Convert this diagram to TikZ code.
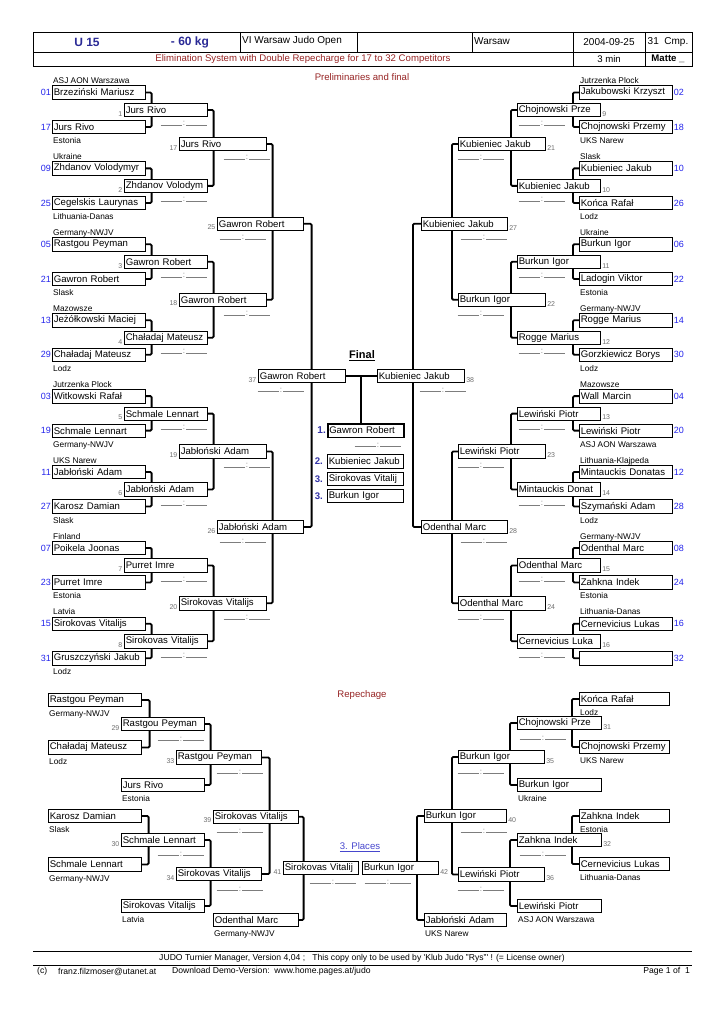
\documentclass[tikz,border=0pt]{standalone}
\usepackage{fontspec}
\setmainfont{Liberation Sans}
\usetikzlibrary{calc,shadows,backgrounds}

\definecolor{hdblue}{RGB}{42,42,150}
\definecolor{nrblue}{RGB}{35,35,235}
\definecolor{dkred}{RGB}{150,35,35}
\definecolor{plblue}{RGB}{50,50,165}
\definecolor{lnkblue}{RGB}{70,70,205}
\definecolor{numgray}{RGB}{110,110,110}
\definecolor{scgray}{RGB}{125,125,125}

\def\nmfont{\fontsize{9.6}{11}\selectfont}
\def\clfont{\fontsize{8.3}{9}\selectfont}
\def\nrfont{\fontsize{9}{10}\selectfont}
\def\mnfont{\fontsize{7}{8}\selectfont}
\def\scoreline{\textcolor{scgray}{\rule{21pt}{0.6pt}\,:\,\rule{21pt}{0.6pt}}}

\tikzset{
  pbox/.style={draw, fill=white, line width=0.6pt, inner xsep=1.5pt, inner ysep=0pt,
    minimum height=13.5pt, anchor=west, align=left, font=\nmfont,
    general shadow={fill=black, shadow xshift=0.7pt, shadow yshift=-0.7pt}},
  ebox/.style={pbox, text width=90pt},
  abox/.style={pbox, text width=80pt},
  bbox/.style={pbox, text width=84pt},
  cbox/.style={pbox, text width=83pt},
  pwide/.style={pbox, text width=73pt},
  conn/.style={line width=1.8pt, rounded corners=1.2pt},
  hline/.style={line width=0.6pt},
  score/.style={inner sep=0pt, anchor=base, font=\fontsize{8}{8}\selectfont},
  clubtxt/.style={inner sep=0pt, anchor=base west, xshift=1pt, font=\clfont},
  clubabove/.style={label={[clubtxt, yshift=1.8pt]north west:#1}},
  clubbelow/.style={label={[clubtxt, yshift=-9.5pt]south west:#1}},
  numleft/.style={label={[anchor=east, inner sep=1pt, text=nrblue, font=\nrfont]west:#1}},
  numright/.style={label={[anchor=west, inner sep=1pt, text=nrblue, font=\nrfont]east:#1}},
  matchl/.style={label={[anchor=south east, inner xsep=1.5pt, inner ysep=0.5pt, text=numgray, font=\mnfont]south west:#1}},
  matchr/.style={label={[anchor=south west, inner xsep=1.5pt, inner ysep=0.5pt, text=numgray, font=\mnfont]south east:#1}},
  redtxt/.style={text=dkred, font=\fontsize{9.6}{11}\selectfont},
  foot/.style={font=\fontsize{8.6}{10}\selectfont, inner sep=0pt}
}

\begin{document}
\begin{tikzpicture}[x=1pt,y=-1pt]
\useasboundingbox (0,0) rectangle (724,1024);

%%%%% HEADER %%%%%
\draw[hline] (33,32) rectangle (692,66);
\draw[hline] (33,52) -- (692,52);
\draw[hline] (240,32) -- (240,52) (357,32) -- (357,52) (472,32) -- (472,52);
\draw[hline] (573,32) -- (573,66) (645,32) -- (645,66);
\node[text=hdblue, font=\fontsize{12}{14}\selectfont\bfseries] (age) at (87,42) {U 15};
\node[text=hdblue, font=\fontsize{12}{14}\selectfont\bfseries] (wcls) at (190,42) {- 60 kg};
\node[anchor=west, inner sep=1pt, font=\fontsize{10}{12}\selectfont] (tour) at (241,41) {VI Warsaw Judo Open};
\node[anchor=west, inner sep=1pt, font=\fontsize{10}{12}\selectfont] (city) at (473,41) {Warsaw};
\node[font=\fontsize{10}{12}\selectfont] (date) at (609,42) {2004-09-25};
\node[font=\fontsize{10}{12}\selectfont] (cmp) at (668,42) {31\ \ Cmp.};
\node[redtxt] (sys) at (303,59) {Elimination System with Double Repecharge for 17 to 32 Competitors};
\node[font=\fontsize{9.6}{11}\selectfont] (time) at (609,59) {3 min};
\node[font=\fontsize{9.6}{11}\selectfont\bfseries] (mat) at (668,59) {Matte \_};
\node[redtxt] (prel) at (362,77) {Preliminaries and final};

%%%%% LEFT ENTRIES %%%%%
\node[ebox, numleft=01, clubabove=ASJ AON Warszawa] (e01) at (52,92.5) {Brzeziński Mariusz};
\node[ebox, numleft=17, clubbelow=Estonia] (e17) at (52,127) {Jurs Rivo};
\node[ebox, numleft=09, clubabove=Ukraine] (e09) at (52,168.4) {Zhdanov Volodymyr};
\node[ebox, numleft=25, clubbelow=Lithuania-Danas] (e25) at (52,203) {Cegelskis Laurynas};
\node[ebox, numleft=05, clubabove=Germany-NWJV] (e05) at (52,244.3) {Rastgou Peyman};
\node[ebox, numleft=21, clubbelow=Slask] (e21) at (52,279) {Gawron Robert};
\node[ebox, numleft=13, clubabove=Mazowsze] (e13) at (52,320.2) {Jeżółkowski Maciej};
\node[ebox, numleft=29, clubbelow=Lodz] (e29) at (52,354.7) {Chaładaj Mateusz};
\node[ebox, numleft=03, clubabove=Jutrzenka Plock] (e03) at (52,396.1) {Witkowski Rafał};
\node[ebox, numleft=19, clubbelow=Germany-NWJV] (e19) at (52,430.6) {Schmale Lennart};
\node[ebox, numleft=11, clubabove=UKS Narew] (e11) at (52,472) {Jabłoński Adam};
\node[ebox, numleft=27, clubbelow=Slask] (e27) at (52,506.5) {Karosz Damian};
\node[ebox, numleft=07, clubabove=Finland] (e07) at (52,547.9) {Poikela Joonas};
\node[ebox, numleft=23, clubbelow=Estonia] (e23) at (52,582.4) {Purret Imre};
\node[ebox, numleft=15, clubabove=Latvia] (e15) at (52,623.8) {Sirokovas Vitalijs};
\node[ebox, numleft=31, clubbelow=Lodz] (e31) at (52,658.3) {Gruszczyński Jakub};

%%%%% RIGHT ENTRIES %%%%%
\node[ebox, numright=02, clubabove=Jutrzenka Plock] (e02) at (579,92.5) {Jakubowski Krzyszt};
\node[ebox, numright=18, clubbelow=UKS Narew] (e18) at (579,127) {Chojnowski Przemy};
\node[ebox, numright=10, clubabove=Slask] (e10) at (579,168.4) {Kubieniec Jakub};
\node[ebox, numright=26, clubbelow=Lodz] (e26) at (579,203) {Końca Rafał};
\node[ebox, numright=06, clubabove=Ukraine] (e06) at (579,244.3) {Burkun Igor};
\node[ebox, numright=22, clubbelow=Estonia] (e22) at (579,279) {Ladogin Viktor};
\node[ebox, numright=14, clubabove=Germany-NWJV] (e14) at (579,320.2) {Rogge Marius};
\node[ebox, numright=30, clubbelow=Lodz] (e30) at (579,354.7) {Gorzkiewicz Borys};
\node[ebox, numright=04, clubabove=Mazowsze] (e04) at (579,396.1) {Wall Marcin};
\node[ebox, numright=20, clubbelow=ASJ AON Warszawa] (e20) at (579,430.6) {Lewiński Piotr};
\node[ebox, numright=12, clubabove=Lithuania-Klajpeda] (e12) at (579,472) {Mintauckis Donatas};
\node[ebox, numright=28, clubbelow=Lodz] (e28) at (579,506.5) {Szymański Adam};
\node[ebox, numright=08, clubabove=Germany-NWJV] (e08) at (579,547.9) {Odenthal Marc};
\node[ebox, numright=24, clubbelow=Estonia] (e24) at (579,582.4) {Zahkna Indek};
\node[ebox, numright=16, clubabove=Lithuania-Danas] (e16) at (579,623.8) {Cernevicius Lukas};
\node[ebox, numright=32] (e32) at (579,658.3) {};

%%%%% ROUND 1 %%%%%
\node[abox, matchl=1] (m1) at (124,110) {Jurs Rivo};
\node[abox, matchl=2] (m2) at (124,185.9) {Zhdanov Volodym};
\node[abox, matchl=3] (m3) at (124,261.8) {Gawron Robert};
\node[abox, matchl=4] (m4) at (124,337.7) {Chaładaj Mateusz};
\node[abox, matchl=5] (m5) at (124,413.6) {Schmale Lennart};
\node[abox, matchl=6] (m6) at (124,489.5) {Jabłoński Adam};
\node[abox, matchl=7] (m7) at (124,565.4) {Purret Imre};
\node[abox, matchl=8] (m8) at (124,641.3) {Sirokovas Vitalijs};
\node[abox, matchr=9] (m9) at (517,110) {Chojnowski Prze};
\node[abox, matchr=10] (m10) at (517,185.9) {Kubieniec Jakub};
\node[abox, matchr=11] (m11) at (517,261.8) {Burkun Igor};
\node[abox, matchr=12] (m12) at (517,337.7) {Rogge Marius};
\node[abox, matchr=13] (m13) at (517,413.6) {Lewiński Piotr};
\node[abox, matchr=14] (m14) at (517,489.5) {Mintauckis Donat};
\node[abox, matchr=15] (m15) at (517,565.4) {Odenthal Marc};
\node[abox, matchr=16] (m16) at (517,641.3) {Cernevicius Luka};

%%%%% ROUND 2 / 3 / FINAL %%%%%
\node[bbox, matchl=17] (m17) at (179,144) {Jurs Rivo};
\node[bbox, matchl=18] (m18) at (179,299.7) {Gawron Robert};
\node[bbox, matchl=19] (m19) at (179,451.5) {Jabłoński Adam};
\node[bbox, matchl=20] (m20) at (179,603.3) {Sirokovas Vitalijs};
\node[bbox, matchr=21] (m21) at (458,144) {Kubieniec Jakub};
\node[bbox, matchr=22] (m22) at (458,299.7) {Burkun Igor};
\node[bbox, matchr=23] (m23) at (458,451.5) {Lewiński Piotr};
\node[bbox, matchr=24] (m24) at (458,603.3) {Odenthal Marc};
\node[cbox, matchl=25] (m25) at (217,223.7) {Gawron Robert};
\node[cbox, matchl=26] (m26) at (217,527) {Jabłoński Adam};
\node[cbox, matchr=27] (m27) at (421,223.7) {Kubieniec Jakub};
\node[cbox, matchr=28] (m28) at (421,527) {Odenthal Marc};
\node[bbox, matchl=37] (m37) at (258,376) {Gawron Robert};
\node[bbox, matchr=38] (m38) at (377,376) {Kubieniec Jakub};

\node[font=\fontsize{11}{13}\selectfont\bfseries] (fin) at (362,356) {\underline{Final}};
\node[pwide, line width=1.5pt] (p1) at (327,430.5) {Gawron Robert};
\node[pwide] (p2) at (327,461.5) {Kubieniec Jakub};
\node[pwide] (p3) at (327,479) {Sirokovas Vitalij};
\node[pwide] (p4) at (327,496) {Burkun Igor};
\node[anchor=east, inner sep=1pt, text=plblue, font=\fontsize{10}{12}\selectfont\bfseries] (pl1) at (p1.west) {1.};
\node[anchor=east, inner sep=1pt, text=plblue, font=\fontsize{9.6}{12}\selectfont\bfseries] (pl2) at ([xshift=-3pt]p2.west) {2.};
\node[anchor=east, inner sep=1pt, text=plblue, font=\fontsize{9.6}{12}\selectfont\bfseries] (pl3) at ([xshift=-3pt]p3.west) {3.};
\node[anchor=east, inner sep=1pt, text=plblue, font=\fontsize{9.6}{12}\selectfont\bfseries] (pl4) at ([xshift=-3pt]p4.west) {3.};

%%%%% SCORES %%%%%
\node[score] (s1) at (184,126) {\scoreline};
\node[score] (s2) at (184,201.9) {\scoreline};
\node[score] (s3) at (184,277.8) {\scoreline};
\node[score] (s4) at (184,353.7) {\scoreline};
\node[score] (s5) at (184,429.6) {\scoreline};
\node[score] (s6) at (184,505.5) {\scoreline};
\node[score] (s7) at (184,581.4) {\scoreline};
\node[score] (s8) at (184,657.3) {\scoreline};
\node[score] (s9) at (542,126) {\scoreline};
\node[score] (s10) at (542,201.9) {\scoreline};
\node[score] (s11) at (542,277.8) {\scoreline};
\node[score] (s12) at (542,353.7) {\scoreline};
\node[score] (s13) at (542,429.6) {\scoreline};
\node[score] (s14) at (542,505.5) {\scoreline};
\node[score] (s15) at (542,581.4) {\scoreline};
\node[score] (s16) at (542,657.3) {\scoreline};
\node[score] (s17) at (247,160) {\scoreline};
\node[score] (s18) at (247,315.7) {\scoreline};
\node[score] (s19) at (247,467.5) {\scoreline};
\node[score] (s20) at (247,619.3) {\scoreline};
\node[score] (s21) at (481,160) {\scoreline};
\node[score] (s22) at (481,315.7) {\scoreline};
\node[score] (s23) at (481,467.5) {\scoreline};
\node[score] (s24) at (481,619.3) {\scoreline};
\node[score] (s25) at (243,239.7) {\scoreline};
\node[score] (s26) at (243,543) {\scoreline};
\node[score] (s27) at (484,239.7) {\scoreline};
\node[score] (s28) at (484,543) {\scoreline};
\node[score] (s37) at (281,392) {\scoreline};
\node[score] (s38) at (443,392) {\scoreline};
\node[score] (sp1) at (378,447) {\scoreline};

%%%%% REPECHAGE %%%%%
\node[redtxt] (rep) at (362,695) {Repechage};
\node[text=lnkblue, font=\fontsize{9.6}{11}\selectfont] (plc) at (360,847) {\underline{3. Places}};

\node[ebox, clubbelow=Germany-NWJV] (ra1) at (48,700) {Rastgou Peyman};
\node[ebox, clubbelow=Lodz] (ra2) at (48,747.5) {Chaładaj Mateusz};
\node[ebox, clubbelow=Slask] (ra3) at (48,816) {Karosz Damian};
\node[ebox, clubbelow=Germany-NWJV] (ra4) at (48,864.5) {Schmale Lennart};
\node[abox, matchl=29] (m29) at (121,724) {Rastgou Peyman};
\node[abox, clubbelow=Estonia] (rb2) at (121,785) {Jurs Rivo};
\node[abox, matchl=30] (m30) at (121,840) {Schmale Lennart};
\node[abox, clubbelow=Latvia] (rb4) at (121,906) {Sirokovas Vitalijs};
\node[pbox, text width=82pt, matchl=33] (m33) at (176,757.5) {Rastgou Peyman};
\node[pbox, text width=82pt, matchl=34] (m34) at (176,874) {Sirokovas Vitalijs};
\node[pbox, text width=82pt, matchl=39] (m39) at (213,816.7) {Sirokovas Vitalijs};
\node[pbox, text width=82pt, clubbelow=Germany-NWJV] (rd2) at (213,920) {Odenthal Marc};
\node[pwide, text width=72pt, matchl=41] (m41) at (283,868) {Sirokovas Vitalij};

\node[pbox, text width=87pt, clubbelow=Lodz] (qa1) at (579,699) {Końca Rafał};
\node[pbox, text width=87pt, clubbelow=UKS Narew] (qa2) at (579,747) {Chojnowski Przemy};
\node[pbox, text width=87pt, clubbelow=Estonia] (qa3) at (579,816) {Zahkna Indek};
\node[pbox, text width=87pt, clubbelow=Lithuania-Danas] (qa4) at (579,864) {Cernevicius Lukas};
\node[pbox, text width=81pt, matchr=31] (m31) at (517,723) {Chojnowski Prze};
\node[pbox, text width=81pt, clubbelow=Ukraine] (qb2) at (517,785) {Burkun Igor};
\node[pbox, text width=81pt, matchr=32] (m32) at (517,840) {Zahkna Indek};
\node[pbox, text width=81pt, clubbelow=ASJ AON Warszawa] (qb4) at (517,906) {Lewiński Piotr};
\node[pbox, text width=83pt, matchr=35] (m35) at (458,757) {Burkun Igor};
\node[pbox, text width=83pt, matchr=36] (m36) at (458,874.5) {Lewiński Piotr};
\node[pbox, text width=79pt, matchr=40] (m40) at (424,816) {Burkun Igor};
\node[pbox, text width=79pt, clubbelow=UKS Narew] (qd2) at (424,920) {Jabłoński Adam};
\node[pwide, matchr=42] (m42) at (362,868) {Burkun Igor};

\node[score] (s29) at (181,741) {\scoreline};
\node[score] (s33) at (240,774) {\scoreline};
\node[score] (s30) at (181,856) {\scoreline};
\node[score] (s34) at (240,891) {\scoreline};
\node[score] (s39) at (240,833) {\scoreline};
\node[score] (s41) at (333,884) {\scoreline};
\node[score] (s31) at (543,740) {\scoreline};
\node[score] (s35) at (481,774) {\scoreline};
\node[score] (s32) at (543,856) {\scoreline};
\node[score] (s36) at (481,891) {\scoreline};
\node[score] (s40) at (484,833) {\scoreline};
\node[score] (s42) at (388,884) {\scoreline};

%%%%% CONNECTORS %%%%%
\begin{scope}[on background layer]
\draw[conn] (e01.east) -- ++(6,0) |- (e17.east);
\draw[conn] (e09.east) -- ++(6,0) |- (e25.east);
\draw[conn] (e05.east) -- ++(6,0) |- (e21.east);
\draw[conn] (e13.east) -- ++(6,0) |- (e29.east);
\draw[conn] (e03.east) -- ++(6,0) |- (e19.east);
\draw[conn] (e11.east) -- ++(6,0) |- (e27.east);
\draw[conn] (e07.east) -- ++(6,0) |- (e23.east);
\draw[conn] (e15.east) -- ++(6,0) |- (e31.east);
\draw[conn] (e02.west) -- ++(-6,0) |- (e18.west);
\draw[conn] (e10.west) -- ++(-6,0) |- (e26.west);
\draw[conn] (e06.west) -- ++(-6,0) |- (e22.west);
\draw[conn] (e14.west) -- ++(-6,0) |- (e30.west);
\draw[conn] (e04.west) -- ++(-6,0) |- (e20.west);
\draw[conn] (e12.west) -- ++(-6,0) |- (e28.west);
\draw[conn] (e08.west) -- ++(-6,0) |- (e24.west);
\draw[conn] (e16.west) -- ++(-6,0) |- (e32.west);

\draw[conn] (m1.east) -- ++(6,0) |- (m2.east);
\draw[conn] (m3.east) -- ++(6,0) |- (m4.east);
\draw[conn] (m5.east) -- ++(6,0) |- (m6.east);
\draw[conn] (m7.east) -- ++(6,0) |- (m8.east);
\draw[conn] (m9.west) -- ++(-6,0) |- (m10.west);
\draw[conn] (m11.west) -- ++(-6,0) |- (m12.west);
\draw[conn] (m13.west) -- ++(-6,0) |- (m14.west);
\draw[conn] (m15.west) -- ++(-6,0) |- (m16.west);

\draw[conn] (m17.east) -- ++(6,0) |- (m18.east);
\draw[conn] (m19.east) -- ++(6,0) |- (m20.east);
\draw[conn] (m21.west) -- ++(-6,0) |- (m22.west);
\draw[conn] (m23.west) -- ++(-6,0) |- (m24.west);
\draw[conn] (m25.east) -- ++(8,0) |- (m26.east);
\draw[conn] (m27.west) -- ++(-8,0) |- (m28.west);

\coordinate (fmid) at ($(m37.east)!0.5!(m38.west)$);
\draw[conn] (m37.east) -- (m38.west);
\draw[conn] (fmid) -- (fmid |- p1.north);

\draw[conn] (ra1.east) -- ++(8,0) |- (ra2.east);
\draw[conn] (ra3.east) -- ++(7,0) |- (ra4.east);
\draw[conn] (m29.east) -- ++(6,0) |- (rb2.east);
\draw[conn] (m30.east) -- ++(6,0) |- (rb4.east);
\draw[conn] (m33.east) -- ++(8,0) |- (m34.east);
\draw[conn] (m39.east) -- ++(5,0) |- (rd2.east);
\draw[conn] (qa1.west) -- ++(-7,0) |- (qa2.west);
\draw[conn] (qa3.west) -- ++(-7,0) |- (qa4.west);
\draw[conn] (m31.west) -- ++(-7,0) |- (qb2.west);
\draw[conn] (m32.west) -- ++(-7,0) |- (qb4.west);
\draw[conn] (m35.west) -- ++(-6,0) |- (m36.west);
\draw[conn] (m40.west) -- ++(-7,0) |- (qd2.west);
\end{scope}

%%%%% FOOTER %%%%%
\draw[line width=0.5pt] (33,951) -- (692,951);
\draw[line width=0.5pt] (33,965) -- (692,965);
\node[foot] (lic) at (362,958) {JUDO Turnier Manager, Version 4,04 ;\ \ \ This copy only to be used by \textquotesingle Klub Judo "Rys"\textquotesingle\ ! (= License owner)};
\node[foot, anchor=west] (copy) at (37,971.5) {(c)};
\node[foot, anchor=west] (mail) at (58,971.5) {franz.filzmoser@utanet.at};
\node[foot, anchor=west] (dl) at (172,971.5) {Download Demo-Version:\ \ www.home.pages.at/judo};
\node[foot, anchor=east] (page) at (690,971.5) {Page 1 of\ \ 1};
\end{tikzpicture}
\end{document}
